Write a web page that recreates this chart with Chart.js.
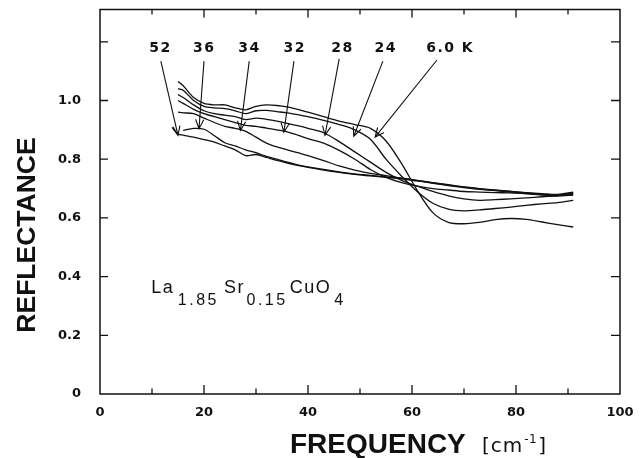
<!DOCTYPE html>
<html><head><meta charset="utf-8">
<script src="https://cdn.jsdelivr.net/npm/chart.js@4.4.1/dist/chart.umd.min.js"></script>
<style>html,body{margin:0;padding:0;background:#fff}#wrap{width:640px;height:458px;position:relative}</style>
</head><body><div id="wrap"><canvas id="c"></canvas></div>
<script>
// Frequency (cm^-1)
const freq = [14,15,16,18,20,22,24,26,28,30,32,34,36,38,40,43,46,49,52,55,58,61,64,67,70,73,76,79,82,85,88,91];
// Reflectance for each temperature
const r6K  = [null,1.065,1.05,1.01,0.99,0.985,0.985,0.975,0.968,0.98,0.985,0.983,0.978,0.97,0.96,0.945,0.93,0.918,0.905,0.862,0.785,0.694,0.618,0.585,0.58,0.585,0.594,0.598,0.595,0.586,0.577,0.569];
const r24K = [null,1.04,1.035,1.0,0.98,0.975,0.972,0.965,0.955,0.965,0.966,0.962,0.958,0.952,0.945,0.932,0.918,0.9,0.868,0.8,0.742,0.69,0.65,0.63,0.624,0.627,0.632,0.637,0.643,0.648,0.652,0.66];
const r28K = [null,1.02,1.01,0.985,0.965,0.955,0.95,0.945,0.935,0.94,0.936,0.93,0.922,0.914,0.905,0.89,0.86,0.825,0.79,0.755,0.728,0.708,0.69,0.675,0.665,0.66,0.662,0.665,0.668,0.672,0.675,0.68];
const r32K = [null,1.0,0.99,0.97,0.955,0.945,0.935,0.925,0.915,0.912,0.906,0.9,0.893,0.882,0.87,0.855,0.83,0.8,0.765,0.738,0.72,0.708,0.7,0.695,0.69,0.688,0.686,0.685,0.682,0.678,0.675,0.678];
const r34K = [null,0.96,0.958,0.955,0.94,0.925,0.912,0.905,0.895,0.875,0.855,0.842,0.832,0.822,0.812,0.795,0.777,0.763,0.752,0.744,0.735,0.727,0.718,0.71,0.703,0.697,0.694,0.69,0.685,0.68,0.676,0.684];
const r36K = [null,null,0.898,0.905,0.902,0.88,0.856,0.845,0.832,0.822,0.81,0.8,0.79,0.781,0.774,0.765,0.757,0.75,0.745,0.74,0.735,0.728,0.72,0.713,0.706,0.7,0.695,0.69,0.686,0.683,0.68,0.688];
const r52K = [0.91,0.886,0.882,0.875,0.867,0.858,0.845,0.832,0.812,0.816,0.806,0.796,0.787,0.779,0.772,0.763,0.755,0.748,0.743,0.738,0.733,0.726,0.719,0.712,0.705,0.699,0.693,0.688,0.684,0.68,0.678,0.685];
const seriesNames = ['6.0 K','24 K','28 K','32 K','34 K','36 K','52 K'];
const seriesValues = [r6K,r24K,r28K,r32K,r34K,r36K,r52K];

// Tick labels
const xLabelVals = [0,20,40,60,80,100];
const yTickVals = [0.2,0.4,0.6,0.8,1.0,1.2];
const yLabelVals = [0,0.2,0.4,0.6,0.8,1.0];

// Arrow annotations (data units)
const arrowLabels = ['52','36','34','32','28','24','6.0 K'];
const labelFreq   = [11.5,19.9,28.6,37.3,46.5,54.8,67.2];
const labelR      = 1.177;
const arrowFromF  = [11.7,20.0,28.7,37.3,46.0,54.4,64.8];
const arrowFromR  = [1.134,1.134,1.134,1.134,1.142,1.134,1.138];
const arrowTipF   = [15.0,19.04,27.0,35.36,43.26,48.8,52.9];
const arrowTipR   = [0.881,0.904,0.898,0.892,0.881,0.878,0.875];

const INK = '#111';

const decor = {
  id: 'decor',
  afterDraw(chart) {
    const {ctx, chartArea: a, scales: {x, y}} = chart;
    ctx.save();
    ctx.strokeStyle = INK; ctx.fillStyle = INK;
    ctx.lineWidth = 1.5;
    ctx.strokeRect(a.left, a.top, a.right - a.left, a.bottom - a.top);
    ctx.lineWidth = 1.3;
    ctx.beginPath();
    for (let v = 10; v < 100; v += 10) {
      const px = x.getPixelForValue(v);
      const major = v % 20 === 0;
      ctx.moveTo(px, a.bottom); ctx.lineTo(px, a.bottom - (major ? 9 : 5.5));
      ctx.moveTo(px, a.top); ctx.lineTo(px, a.top + (major ? 8 : 5));
    }
    for (const v of yTickVals) {
      const py = y.getPixelForValue(v);
      ctx.moveTo(a.left, py); ctx.lineTo(a.left + 8, py);
      ctx.moveTo(a.right, py); ctx.lineTo(a.right - 9, py);
    }
    ctx.stroke();
    ctx.lineWidth = 1.1;
    for (let i = 0; i < arrowLabels.length; i++) {
      const x0 = x.getPixelForValue(arrowFromF[i]), y0 = y.getPixelForValue(arrowFromR[i]);
      const x1 = x.getPixelForValue(arrowTipF[i]), y1 = y.getPixelForValue(arrowTipR[i]);
      const ang = Math.atan2(y1 - y0, x1 - x0);
      const L = 10, sp = 0.42;
      ctx.beginPath();
      ctx.moveTo(x0, y0); ctx.lineTo(x1, y1);
      ctx.moveTo(x1 - L * Math.cos(ang - sp), y1 - L * Math.sin(ang - sp));
      ctx.lineTo(x1, y1);
      ctx.lineTo(x1 - L * Math.cos(ang + sp), y1 - L * Math.sin(ang + sp));
      ctx.stroke();
    }
    ctx.font = 'bold 14px "DejaVu Sans"';
    ctx.letterSpacing = '1.5px';
    ctx.textAlign = 'center'; ctx.textBaseline = 'middle';
    for (let i = 0; i < arrowLabels.length; i++) {
      ctx.fillText(arrowLabels[i], x.getPixelForValue(labelFreq[i]) + 0.75, y.getPixelForValue(labelR));
    }
    ctx.textAlign = 'left'; ctx.textBaseline = 'alphabetic';
    const parts = [['La',18,0,1.5,3.5],['1.85',16,12,2.5,5],['Sr',18,0,1.5,1.5],['0.15',16,12,2.5,2],['CuO',18,0,1.5,3],['4',16,12,2.5,0]];
    let fx = x.getPixelForValue(9.87);
    const fy = y.getPixelForValue(0.3425);
    for (const [t, s, dy, ls, gap] of parts) {
      ctx.font = s + 'px "Liberation Sans"';
      ctx.letterSpacing = ls + 'px';
      ctx.fillText(t, fx, fy + dy);
      fx += ctx.measureText(t).width + gap;
    }
    ctx.letterSpacing = '0px';
    ctx.font = 'bold 28px "Liberation Sans"';
    ctx.textAlign = 'left';
    ctx.fillText('FREQUENCY', 290, 453);
    ctx.font = '20px "DejaVu Sans"';
    ctx.letterSpacing = '1px';
    const bx = 482;
    ctx.fillText('[cm', bx, 452);
    let cx = bx + ctx.measureText('[cm').width + 1;
    ctx.font = '12px "DejaVu Sans"';
    ctx.letterSpacing = '0.5px';
    ctx.fillText('-1', cx, 443);
    cx += ctx.measureText('-1').width + 1;
    ctx.font = '20px "DejaVu Sans"';
    ctx.letterSpacing = '1px';
    ctx.fillText(']', cx, 452);
    ctx.letterSpacing = '0px';
    ctx.save();
    ctx.translate(25, 235);
    ctx.rotate(-Math.PI / 2);
    ctx.font = 'bold 26.5px "Liberation Sans"';
    ctx.textAlign = 'center';
    ctx.fillText('REFLECTANCE', 0, 9.5);
    ctx.restore();
    ctx.restore();
  }
};

const datasets = seriesValues.map((vals, k) => ({
  label: seriesNames[k],
  data: freq.map((f, i) => vals[i] == null ? null : {x: f, y: vals[i]}).filter(p => p),
  showLine: true,
  borderColor: INK,
  borderWidth: 1.3,
  pointRadius: 0,
  tension: 0.3,
  fill: false
}));

new Chart(document.getElementById('c'), {
  type: 'scatter',
  data: {datasets},
  options: {
    responsive: true, maintainAspectRatio: false, animation: false, devicePixelRatio: 1,
    layout: {padding: {left: 0, top: 9.5, right: 20, bottom: 0}},
    plugins: {legend: {display: false}, tooltip: {enabled: false}},
    scales: {
      x: {
        type: 'linear', min: 0, max: 100,
        afterFit(s) { s.height = 64; s.paddingLeft = 0; s.paddingRight = 0; },
        grid: {display: false, drawTicks: false},
        border: {display: false},
        ticks: {
          stepSize: 10, autoSkip: false, maxRotation: 0, padding: 11, color: INK,
          font: {family: 'DejaVu Sans', weight: 'bold', size: 13},
          callback: v => xLabelVals.includes(v) ? String(v) : ''
        }
      },
      y: {
        type: 'linear', min: 0, max: 1.31,
        afterFit(s) { s.width = 100; s.paddingTop = 0; s.paddingBottom = 0; },
        grid: {display: false, drawTicks: false},
        border: {display: false},
        ticks: {
          stepSize: 0.2, autoSkip: false, padding: 19, color: INK,
          font: {family: 'DejaVu Sans', weight: 'bold', size: 13},
          callback: v => {
            const m = yLabelVals.find(t => Math.abs(t - v) < 1e-6);
            if (m === undefined) return '';
            return m === 0 ? '0' : m.toFixed(1);
          }
        }
      }
    }
  },
  plugins: [decor]
});
</script>
</body></html>
